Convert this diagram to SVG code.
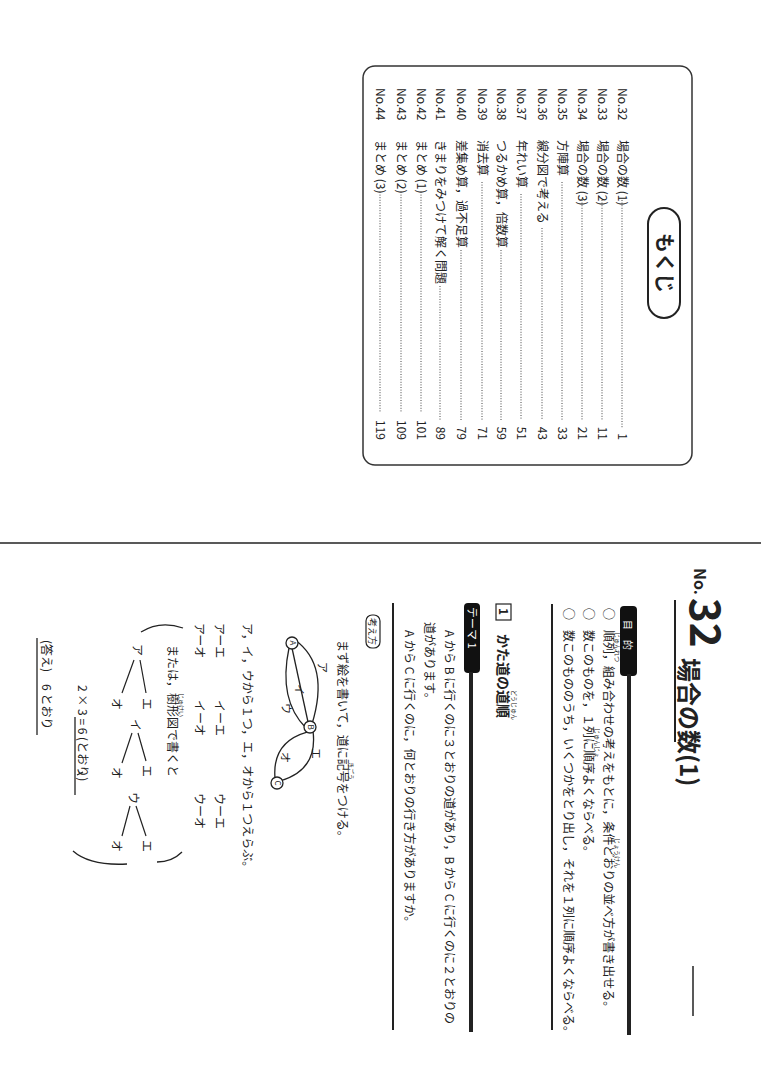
<svg xmlns="http://www.w3.org/2000/svg" width="761" height="1080" viewBox="0 0 761 1080">
<style>
text{font-family:"Noto Sans CJK JP","Liberation Sans",sans-serif;fill:#222}
.t{font-size:12px}
.b{font-weight:bold}
.r{font-size:6px}
.ln{stroke:#222;fill:none}
.dot{stroke:#444;stroke-width:1;stroke-dasharray:1 1.6}
</style>
<rect width="761" height="1080" fill="#fff"/>
<g id="toc">
<rect x="363" y="66" width="329" height="399" rx="12" fill="none" stroke="#333" stroke-width="1.5"/>
<rect x="648" y="208" width="32" height="110" rx="16" fill="none" stroke="#222" stroke-width="2"/>
<text class="b" font-size="20" text-anchor="middle" transform="translate(657,263) rotate(90)">もくじ</text>
<g class="t">
<text transform="translate(618,88) rotate(90)">No.32</text><text transform="translate(618,140) rotate(90)">場合の数 (1)</text><line class="dot" x1="622" y1="200" x2="622" y2="428"/><text text-anchor="end" transform="translate(618,440) rotate(90)">1</text>
<text transform="translate(598,88) rotate(90)">No.33</text><text transform="translate(598,140) rotate(90)">場合の数 (2)</text><line class="dot" x1="602" y1="200" x2="602" y2="420"/><text text-anchor="end" transform="translate(598,440) rotate(90)">11</text>
<text transform="translate(578,88) rotate(90)">No.34</text><text transform="translate(578,140) rotate(90)">場合の数 (3)</text><line class="dot" x1="582" y1="200" x2="582" y2="420"/><text text-anchor="end" transform="translate(578,440) rotate(90)">21</text>
<text transform="translate(558,88) rotate(90)">No.35</text><text transform="translate(558,140) rotate(90)">方陣算</text><line class="dot" x1="562" y1="182" x2="562" y2="420"/><text text-anchor="end" transform="translate(558,440) rotate(90)">33</text>
<text transform="translate(538,88) rotate(90)">No.36</text><text transform="translate(538,140) rotate(90)">線分図で考える</text><line class="dot" x1="542" y1="228" x2="542" y2="420"/><text text-anchor="end" transform="translate(538,440) rotate(90)">43</text>
<text transform="translate(517,88) rotate(90)">No.37</text><text transform="translate(517,140) rotate(90)">年れい算</text><line class="dot" x1="521" y1="194" x2="521" y2="420"/><text text-anchor="end" transform="translate(517,440) rotate(90)">51</text>
<text transform="translate(497,88) rotate(90)">No.38</text><text transform="translate(497,140) rotate(90)">つるかめ算，倍数算</text><line class="dot" x1="501" y1="250" x2="501" y2="420"/><text text-anchor="end" transform="translate(497,440) rotate(90)">59</text>
<text transform="translate(478,88) rotate(90)">No.39</text><text transform="translate(478,140) rotate(90)">消去算</text><line class="dot" x1="482" y1="182" x2="482" y2="420"/><text text-anchor="end" transform="translate(478,440) rotate(90)">71</text>
<text transform="translate(457,88) rotate(90)">No.40</text><text transform="translate(457,140) rotate(90)">差集め算，過不足算</text><line class="dot" x1="461" y1="250" x2="461" y2="420"/><text text-anchor="end" transform="translate(457,440) rotate(90)">79</text>
<text transform="translate(436,88) rotate(90)">No.41</text><text transform="translate(436,140) rotate(90)">きまりをみつけて解く問題</text><line class="dot" x1="440" y1="286" x2="440" y2="420"/><text text-anchor="end" transform="translate(436,440) rotate(90)">89</text>
<text transform="translate(417,88) rotate(90)">No.42</text><text transform="translate(417,140) rotate(90)">まとめ (1)</text><line class="dot" x1="421" y1="192" x2="421" y2="413"/><text text-anchor="end" transform="translate(417,440) rotate(90)">101</text>
<text transform="translate(397,88) rotate(90)">No.43</text><text transform="translate(397,140) rotate(90)">まとめ (2)</text><line class="dot" x1="401" y1="192" x2="401" y2="413"/><text text-anchor="end" transform="translate(397,440) rotate(90)">109</text>
<text transform="translate(376,88) rotate(90)">No.44</text><text transform="translate(376,140) rotate(90)">まとめ (3)</text><line class="dot" x1="380" y1="192" x2="380" y2="413"/><text text-anchor="end" transform="translate(376,440) rotate(90)">119</text>
</g>
</g>
<line class="ln" x1="0" y1="543" x2="761" y2="543" stroke-width="1.5"/>
<g id="heading">
<text class="b" font-size="16" transform="translate(694,568) rotate(90)">No.</text>
<text class="b" font-size="42" transform="translate(690,598) rotate(90)">32</text>
<text class="b" font-size="24" transform="translate(680,658) rotate(90)">場合の数(1)</text>
<line class="ln" x1="675" y1="600" x2="675" y2="742" stroke-width="2"/>
<line class="ln" x1="693" y1="966" x2="693" y2="1016" stroke-width="1.5"/>
</g>
<g id="mokuteki">
<rect x="620" y="606" width="17" height="70" rx="4" fill="#111"/>
<text font-size="10" style="fill:#fff" transform="translate(624,620) rotate(90)">目　的</text>
<line class="ln" x1="629" y1="674" x2="629" y2="1035" stroke-width="4"/>
<g class="t">
<text transform="translate(604,608) rotate(90)">○</text>
<text transform="translate(604,630) rotate(90)">順列，組み合わせの考えをもとに，条件どおりの並べ方が書き出せる。</text>
<text class="r" transform="translate(615,632) rotate(90)">じゅんれつ</text>
<text class="r" transform="translate(615,838) rotate(90)">じょうけん</text>
<text transform="translate(584,608) rotate(90)">○</text>
<text transform="translate(584,630) rotate(90)">数このものを，１列に順序よくならべる。</text>
<text class="r" transform="translate(595,728) rotate(90)">じゅんじょ</text>
<text transform="translate(564,608) rotate(90)">○</text>
<text transform="translate(564,630) rotate(90)">数このもののうち，いくつかをとり出し，それを１列に順序よくならべる。</text>
</g>
</g>
<g id="section1">
<line class="ln" x1="552" y1="604" x2="552" y2="1030" stroke-width="2"/>
<rect x="496" y="604" width="15" height="16" fill="none" stroke="#222" stroke-width="1.2"/>
<text class="b" font-size="12" transform="translate(499,608) rotate(90)">1</text>
<text class="b" font-size="14" transform="translate(498,634) rotate(90)">かた道の道順</text>
<text class="r" transform="translate(512,690) rotate(90)">どうじゅん</text>
</g>
<g id="theme">
<rect x="464" y="603" width="16" height="70" rx="4" fill="#111"/>
<text font-size="11" style="fill:#fff" transform="translate(468,607) rotate(90)">テーマ 1</text>
<line class="ln" x1="471" y1="672" x2="471" y2="1032" stroke-width="4"/>
<g class="t">
<text transform="translate(445,630) rotate(90)">A から B に行くのに３とおりの道があり，B から C に行くのに２とおりの</text>
<text transform="translate(425,622) rotate(90)">道があります。</text>
<text transform="translate(405,630) rotate(90)">A から C に行くのに，何とおりの行き方がありますか。</text>
</g>
<line class="ln" x1="393" y1="603" x2="393" y2="1030" stroke-width="2"/>
</g>
<g id="kangaekata">
<rect x="366" y="615" width="14" height="33" rx="6" fill="none" stroke="#222" stroke-width="1.2"/>
<text font-size="9" transform="translate(369,618) rotate(90)">考え方</text>
<text class="t" transform="translate(338,640) rotate(90)">まず絵を書いて，道に記号をつける。</text>
<text class="r" transform="translate(349,762) rotate(90)">きごう</text>
</g>
<g id="paths">
<path class="ln" stroke-width="1.3" d="M295,640 Q330,665 312,724"/>
<path class="ln" stroke-width="1.3" d="M292,648 L308,722"/>
<path class="ln" stroke-width="1.3" d="M289,648 Q278,700 306,728"/>
<path class="ln" stroke-width="1.3" d="M313,731 Q318,770 280,781"/>
<path class="ln" stroke-width="1.3" d="M307,732 Q272,742 275,778"/>
<g font-size="11">
<text transform="translate(318,662) rotate(90)">ア</text>
<text transform="translate(295,684) rotate(90)">イ</text>
<text transform="translate(282,703) rotate(90)">ウ</text>
<text transform="translate(312,748) rotate(90)">エ</text>
<text transform="translate(281,752) rotate(90)">オ</text>
</g>
</g>
<g id="nodeA"><circle cx="292" cy="643" r="6" fill="#fff" stroke="#222" stroke-width="1.3"/><text font-size="8" text-anchor="middle" transform="translate(289.5,643) rotate(90)">A</text></g>
<g id="nodeB"><circle cx="310" cy="727" r="6" fill="#fff" stroke="#222" stroke-width="1.3"/><text font-size="8" text-anchor="middle" transform="translate(307.5,727) rotate(90)">B</text></g>
<g id="nodeC"><circle cx="277" cy="783" r="6" fill="#fff" stroke="#222" stroke-width="1.3"/><text font-size="8" text-anchor="middle" transform="translate(274.5,783) rotate(90)">C</text></g>
<g id="solution" class="t">
<text transform="translate(243,623) rotate(90)">ア，イ，ウから１つ，エ，オから１つえらぶ。</text>
<text transform="translate(215,623) rotate(90)">アーエ</text><text transform="translate(215,700) rotate(90)">イーエ</text><text transform="translate(215,793) rotate(90)">ウーエ</text>
<text transform="translate(195,623) rotate(90)">アーオ</text><text transform="translate(195,700) rotate(90)">イーオ</text><text transform="translate(195,793) rotate(90)">ウーオ</text>
<path class="ln" stroke-width="1.3" d="M141,632 Q160,620 183,628"/>
<path class="ln" stroke-width="1.3" d="M77,775 L83,772"/>
<path class="ln" stroke-width="1.3" d="M73,851 Q90,866 127,864"/>
<path class="ln" stroke-width="1.3" d="M157,862 Q172,862 182,852"/>
<text transform="translate(168,645) rotate(90)">または，樹形図で書くと</text>
<text class="r" transform="translate(179,693) rotate(90)">じゅけい</text>
<text transform="translate(133,644) rotate(90)">ア</text>
<text transform="translate(142,698) rotate(90)">エ</text><text transform="translate(112,698) rotate(90)">オ</text>
<path class="ln" stroke-width="1.2" d="M140,660 L146,693 M134,660 L122,693"/>
<text transform="translate(131,719) rotate(90)">イ</text>
<text transform="translate(142,765) rotate(90)">エ</text><text transform="translate(112,767) rotate(90)">オ</text>
<path class="ln" stroke-width="1.2" d="M138,733 L146,761 M132,733 L122,763"/>
<text transform="translate(129,792) rotate(90)">ウ</text>
<text transform="translate(142,840) rotate(90)">エ</text><text transform="translate(112,840) rotate(90)">オ</text>
<path class="ln" stroke-width="1.2" d="M136,806 L146,836 M130,806 L122,836"/>
<text transform="translate(78,685) rotate(90)">2 × 3 = 6 (とおり)</text>
<line class="ln" x1="75" y1="717" x2="75" y2="795" stroke-width="1.3"/>
<text transform="translate(42,640) rotate(90)">(答え)　6 とおり</text>
<line class="ln" x1="37" y1="638" x2="37" y2="735" stroke-width="1.3"/>
</g>
</svg>
